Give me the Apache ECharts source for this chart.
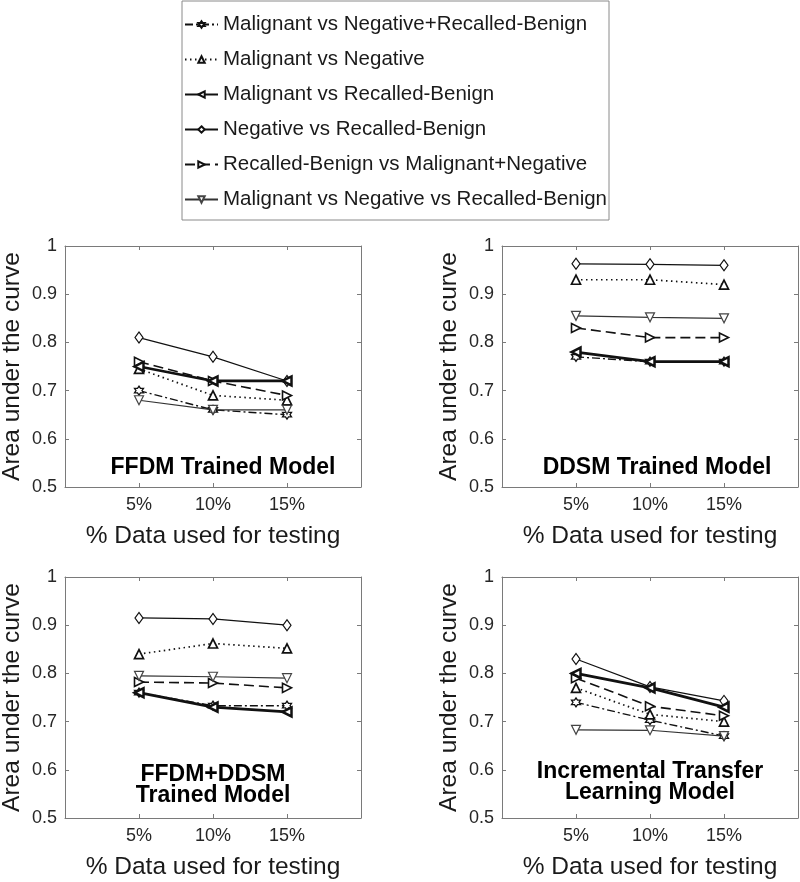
<!DOCTYPE html>
<html>
<head>
<meta charset="utf-8">
<script src="https://cdn.jsdelivr.net/npm/echarts@6/dist/echarts.min.js"></script>
<style>
html,body{margin:0;padding:0;background:#fff;}
#c{width:800px;height:882px;}
</style>
</head>
<body>
<div id="c"></div>
<script>
// ---- data ----
const xValues = [5, 10, 15];
const xTickLabels = ['5%', '10%', '15%'];
const yTickValues = [0.5, 0.6, 0.7, 0.8, 0.9, 1];
const yTickLabels = ['0.5', '0.6', '0.7', '0.8', '0.9', '1'];
const seriesNames = [
  'Malignant vs Negative+Recalled-Benign',
  'Malignant vs Negative',
  'Malignant vs Recalled-Benign',
  'Negative vs Recalled-Benign',
  'Recalled-Benign vs Malignant+Negative',
  'Malignant vs Negative vs Recalled-Benign'
];
const panelTitles = ['FFDM Trained Model', 'DDSM Trained Model', 'FFDM+DDSM\nTrained Model', 'Incremental Transfer\nLearning Model'];
const xAxisName = '% Data used for testing';
const yAxisName = 'Area under the curve';

// FFDM Trained Model
const ffdm_MvNR  = [0.70, 0.66, 0.65];
const ffdm_MvN   = [0.745, 0.69, 0.68];
const ffdm_MvR   = [0.75, 0.72, 0.72];
const ffdm_NvR   = [0.81, 0.77, 0.72];
const ffdm_RvMN  = [0.76, 0.72, 0.69];
const ffdm_MvNvR = [0.68, 0.66, 0.66];
// DDSM Trained Model
const ddsm_MvNR  = [0.77, 0.76, 0.76];
const ddsm_MvN   = [0.93, 0.93, 0.92];
const ddsm_MvR   = [0.78, 0.76, 0.76];
const ddsm_NvR   = [0.963, 0.962, 0.96];
const ddsm_RvMN  = [0.83, 0.81, 0.81];
const ddsm_MvNvR = [0.855, 0.852, 0.85];
// FFDM+DDSM Trained Model
const both_MvNR  = [0.76, 0.733, 0.733];
const both_MvN   = [0.84, 0.862, 0.852];
const both_MvR   = [0.76, 0.73, 0.72];
const both_NvR   = [0.915, 0.913, 0.90];
const both_RvMN  = [0.782, 0.78, 0.77];
const both_MvNvR = [0.795, 0.793, 0.79];
// Incremental Transfer Learning Model
const itl_MvNR  = [0.74, 0.703, 0.67];
const itl_MvN   = [0.77, 0.715, 0.70];
const itl_MvR   = [0.80, 0.77, 0.73];
const itl_NvR   = [0.83, 0.772, 0.743];
const itl_RvMN  = [0.79, 0.732, 0.712];
const itl_MvNvR = [0.683, 0.682, 0.67];

const panels = [
  [ffdm_MvNR, ffdm_MvN, ffdm_MvR, ffdm_NvR, ffdm_RvMN, ffdm_MvNvR],
  [ddsm_MvNR, ddsm_MvN, ddsm_MvR, ddsm_NvR, ddsm_RvMN, ddsm_MvNvR],
  [both_MvNR, both_MvN, both_MvR, both_NvR, both_RvMN, both_MvNvR],
  [itl_MvNR, itl_MvN, itl_MvR, itl_NvR, itl_RvMN, itl_MvNvR]
];

// ---- styles ----
const FONT = 'Liberation Sans, Arial, Helvetica, sans-serif';
const hexagram = 'path://M100 0 L128.87 50 L186.6 50 L157.7 100 L186.6 150 L128.87 150 L100 200 L71.13 150 L13.4 150 L42.3 100 L13.4 50 L71.13 50 Z';
const styles = [
  {line: {type: [8, 3, 2, 3], width: 1.4, color: '#111'}, symbol: hexagram, rot: 0, size: 9, bw: 1.3, color: '#111'},
  {line: {type: [1.5, 3.5], width: 1.7, color: '#111'}, symbol: 'triangle', rot: 0, size: 9, bw: 1.7, color: '#111'},
  {line: {type: 'solid', width: 2.7, color: '#111'}, symbol: 'triangle', rot: 90, size: 9, bw: 2.5, color: '#111'},
  {line: {type: 'solid', width: 1.2, color: '#111'}, symbol: 'diamond', rot: 0, size: [8, 11], bw: 1.2, color: '#111'},
  {line: {type: [10, 5], width: 1.6, color: '#111'}, symbol: 'triangle', rot: -90, size: 9, bw: 1.6, color: '#111'},
  {line: {type: 'solid', width: 1.2, color: '#333'}, symbol: 'triangle', rot: 180, size: 9, bw: 1.2, color: '#444'}
];

const gridPos = [
  {left: 65, top: 246}, {left: 502, top: 246},
  {left: 65, top: 577}, {left: 502, top: 577}
];
const titlePos = [[223, 468], [657, 468], [213, 785], [650, 782]];

const AXIS_COLOR = '#7a7a7a';
const grids = [], xAxes = [], yAxes = [], series = [], graphics = [];

gridPos.forEach((g, i) => {
  grids.push({left: g.left, top: g.top, width: 296, height: 241, show: false, outerBoundsMode: 'none', containLabel: false});
  xAxes.push({
    gridIndex: i, type: 'value', min: 0, max: 20, interval: 5, position: 'bottom',
    name: xAxisName, nameLocation: 'middle', nameGap: 37, nameMoveOverlap: false,
    nameTextStyle: {fontFamily: FONT, fontSize: 24.5, color: '#1a1a1a'},
    axisLine: {show: true, onZero: false, lineStyle: {color: AXIS_COLOR, width: 1}},
    axisTick: {show: true, inside: true, length: 4, lineStyle: {color: AXIS_COLOR}},
    axisLabel: {show: true, margin: 9, fontFamily: FONT, fontSize: 18, color: '#262626',
      formatter: v => { const k = xValues.indexOf(v); return k >= 0 ? xTickLabels[k] : ''; }},
    splitLine: {show: false}
  });
  xAxes.push({
    gridIndex: i, type: 'value', min: 0, max: 20, interval: 5, position: 'top',
    axisLine: {show: true, onZero: false, lineStyle: {color: AXIS_COLOR, width: 1}},
    axisTick: {show: true, inside: true, length: 4, lineStyle: {color: AXIS_COLOR}},
    axisLabel: {show: false}, splitLine: {show: false}
  });
  yAxes.push({
    gridIndex: i, type: 'value', min: 0.5, max: 1, interval: 0.1, position: 'left',
    name: yAxisName, nameLocation: 'middle', nameGap: 40, nameRotate: 90, nameMoveOverlap: false,
    nameTextStyle: {fontFamily: FONT, fontSize: 24.5, color: '#1a1a1a'},
    axisLine: {show: true, onZero: false, lineStyle: {color: AXIS_COLOR, width: 1}},
    axisTick: {show: true, inside: true, length: 4, lineStyle: {color: AXIS_COLOR}},
    axisLabel: {show: true, margin: 8, fontFamily: FONT, fontSize: 18, color: '#262626',
      formatter: v => { const k = yTickValues.findIndex(t => Math.abs(t - v) < 1e-6); return k >= 0 ? yTickLabels[k] : ''; }},
    splitLine: {show: false}
  });
  yAxes.push({
    gridIndex: i, type: 'value', min: 0.5, max: 1, interval: 0.1, position: 'right',
    axisLine: {show: true, onZero: false, lineStyle: {color: AXIS_COLOR, width: 1}},
    axisTick: {show: true, inside: true, length: 4, lineStyle: {color: AXIS_COLOR}},
    axisLabel: {show: false}, splitLine: {show: false}
  });

  panels[i].forEach((vals, s) => {
    const st = styles[s];
    series.push({
      name: seriesNames[s], type: 'line',
      xAxisIndex: 2 * i, yAxisIndex: 2 * i,
      data: xValues.map((x, k) => [x, vals[k]]),
      symbol: st.symbol, symbolRotate: st.rot, symbolSize: st.size, showSymbol: true,
      lineStyle: st.line,
      itemStyle: {color: '#ffffff', borderColor: st.color, borderWidth: st.bw},
      emphasis: {disabled: true}, silent: true,
      z: s === 2 ? 4 : 3
    });
  });

  graphics.push({
    type: 'text', x: titlePos[i][0], y: titlePos[i][1], z: 10,
    style: {text: panelTitles[i], font: 'bold 23px ' + FONT, fill: '#000',
      align: 'center', verticalAlign: 'middle', lineHeight: 21}
  });
});

const chart = echarts.init(document.getElementById('c'), null, {renderer: 'canvas'});
chart.setOption({
  animation: false,
  backgroundColor: '#fff',
  grid: grids, xAxis: xAxes, yAxis: yAxes, series: series,
  graphic: graphics,
  legend: {
    data: seriesNames, orient: 'vertical', left: 182, top: 1,
    padding: [13, 2, 10, 2], itemGap: 14, itemWidth: 33, itemHeight: 8,
    backgroundColor: '#fff', borderColor: '#8a8a8a', borderWidth: 1,
    selectedMode: false,
    textStyle: {fontFamily: FONT, fontSize: 20.5, color: '#1a1a1a', lineHeight: 20}
  }
});
</script>
</body>
</html>
